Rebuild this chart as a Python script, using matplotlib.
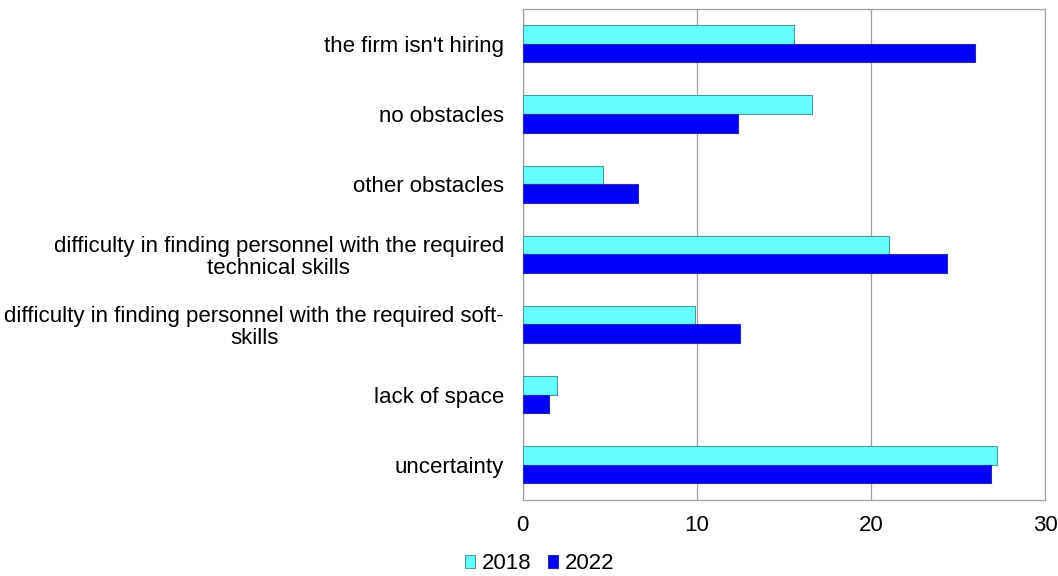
import matplotlib
matplotlib.use("Agg")
import matplotlib.pyplot as plt
import numpy as np

plt.rcParams['font.family'] = ['Liberation Sans', 'DejaVu Sans']

categories = [
    "the firm isn't hiring",
    "no obstacles",
    "other obstacles",
    "difficulty in finding personnel with the required\ntechnical skills",
    "difficulty in finding personnel with the required soft-\nskills",
    "lack of space",
    "uncertainty",
]
series_2018 = [15.55, 16.6, 4.6, 21.0, 9.9, 1.97, 27.2]
series_2022 = [25.95, 12.35, 6.6, 24.35, 12.48, 1.54, 26.9]
series_names = ["2018", "2022"]
x_ticks = [0, 10, 20, 30]

FS = 16

fig = plt.figure(figsize=(10.58, 5.76), dpi=100)
ax = fig.add_axes([0.494, 0.132, 0.494, 0.853])

y = np.arange(len(categories))
h = 0.265
ax.barh(y - h / 2, series_2018, height=h, color='#66FFFF', edgecolor='#4D9A9A',
        linewidth=0.8, label=series_names[0], zorder=3)
ax.barh(y + h / 2, series_2022, height=h, color='#0000FF', edgecolor='#2A2AA8',
        linewidth=0.8, label=series_names[1], zorder=3)

ax.set_ylim(len(categories) - 0.5, -0.5)
ax.set_xlim(0, 30)
ax.set_xticks(x_ticks)
ax.set_xticklabels([str(t) for t in x_ticks], fontsize=FS)
ax.set_yticks(y)
ax.set_yticklabels(categories, fontsize=FS, multialignment='center',
                   linespacing=1.05)
ax.tick_params(axis='both', length=0, colors='black')
ax.tick_params(axis='x', pad=10.5)
ax.tick_params(axis='y', pad=13.5)

ax.xaxis.grid(True, color='#A0A0A0', linewidth=0.9, zorder=0)
ax.set_axisbelow(True)
for side, sp in ax.spines.items():
    sp.set_color('#A0A0A0')
    sp.set_linewidth(0.9)

fig.legend(loc='center', bbox_to_anchor=(0.51, 0.021), ncol=2, frameon=False,
           fontsize=FS, handlelength=0.47, handleheight=0.47, handletextpad=0.28,
           columnspacing=0.75, borderpad=0.1)

fig.savefig('out.png', dpi=100)
